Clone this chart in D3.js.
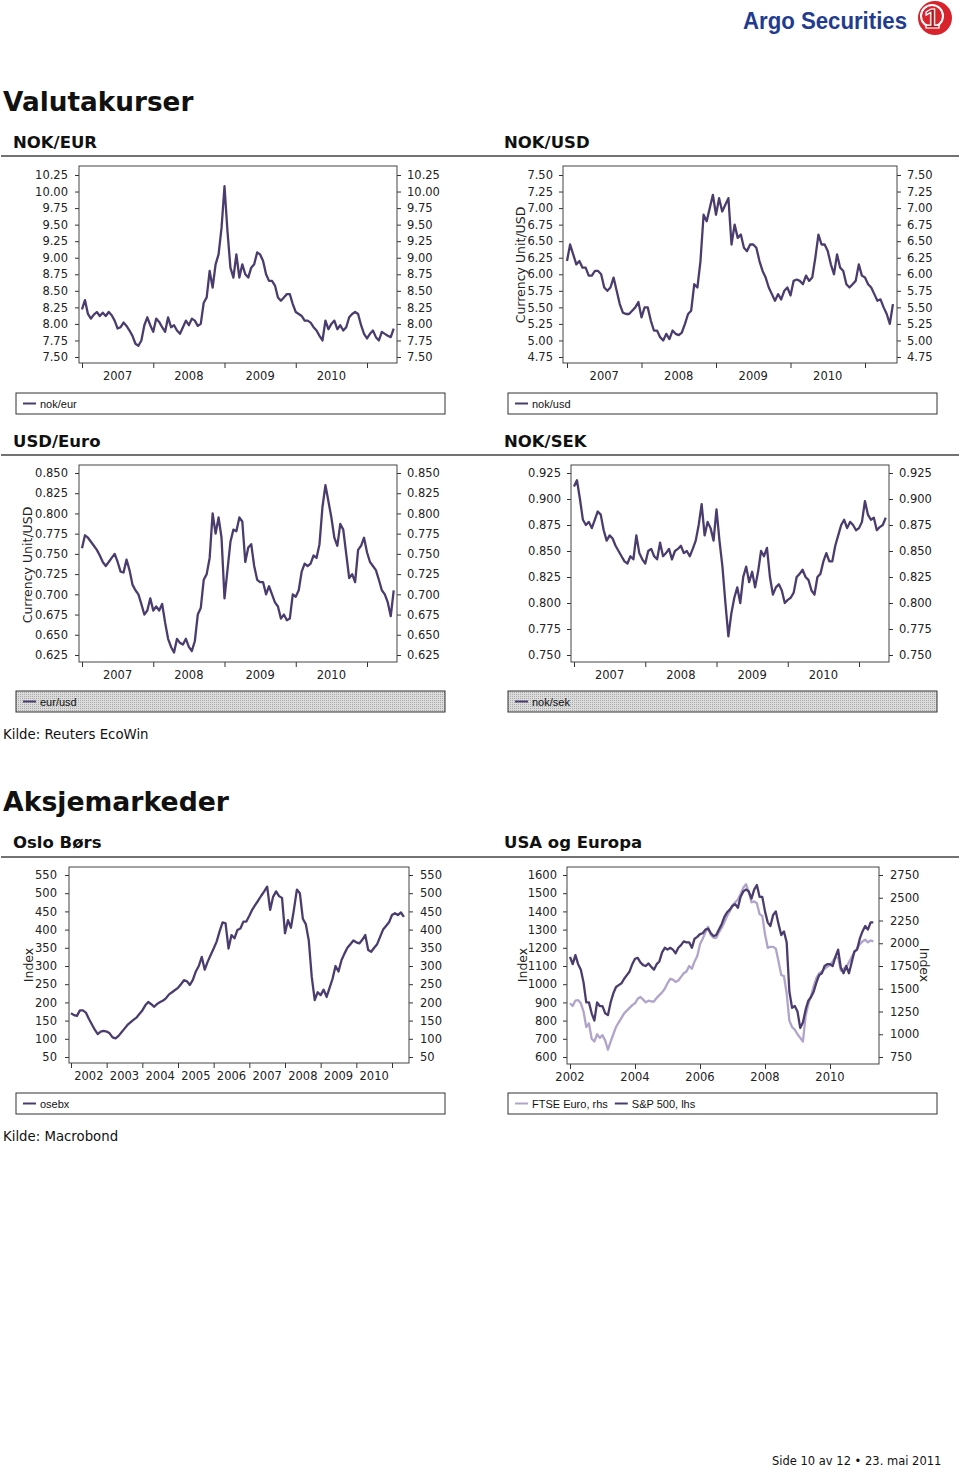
<!DOCTYPE html>
<html><head><meta charset="utf-8"><title>Valutakurser og Aksjemarkeder</title>
<script src="https://cdn.jsdelivr.net/npm/d3@7/dist/d3.min.js"></script>
<style>html,body{margin:0;padding:0;background:#fff}svg{display:block}</style>
</head><body><script>
// ---------- DATA ----------
const fxStart = 2007, fxStep = 1 / 24;        // semi-monthly readings
const stockStart = 2002, stockStep = 1 / 12;  // monthly readings

const fxYears = [2007, 2008, 2009, 2010, 2011];
const fxYearLabels = [2007, 2008, 2009, 2010];
const stockYears = [2002, 2003, 2004, 2005, 2006, 2007, 2008, 2009, 2010, 2011];
const stockYearLabels = [2002, 2003, 2004, 2005, 2006, 2007, 2008, 2009, 2010];
const usEuYears = [2002, 2004, 2006, 2008, 2010];

const nokEurTicks = [7.50, 7.75, 8.00, 8.25, 8.50, 8.75, 9.00, 9.25, 9.50, 9.75, 10.00, 10.25];
const nokUsdTicks = [4.75, 5.00, 5.25, 5.50, 5.75, 6.00, 6.25, 6.50, 6.75, 7.00, 7.25, 7.50];
const eurUsdTicks = [0.625, 0.650, 0.675, 0.700, 0.725, 0.750, 0.775, 0.800, 0.825, 0.850];
const nokSekTicks = [0.750, 0.775, 0.800, 0.825, 0.850, 0.875, 0.900, 0.925];
const osebxTicks = [50, 100, 150, 200, 250, 300, 350, 400, 450, 500, 550];
const spTicks = [600, 700, 800, 900, 1000, 1100, 1200, 1300, 1400, 1500, 1600];
const ftseTicks = [750, 1000, 1250, 1500, 1750, 2000, 2250, 2500, 2750];

const nokEur = [8.22,8.36,8.15,8.08,8.14,8.18,8.12,8.17,8.12,8.18,8.13,8.05,7.93,7.95,8.02,7.97,7.90,7.82,7.70,7.67,7.75,7.98,8.10,7.98,
7.88,8.08,8.03,7.95,7.88,8.10,7.95,7.98,7.90,7.85,7.95,8.05,7.98,8.08,8.05,7.97,8.00,8.32,8.40,8.80,8.55,8.90,9.05,9.45,
10.08,9.40,8.85,8.70,9.05,8.70,8.90,8.75,8.70,8.85,8.90,9.08,9.05,8.95,8.75,8.65,8.65,8.58,8.40,8.35,8.40,8.45,8.45,8.30,
8.18,8.15,8.12,8.05,8.05,8.02,7.95,7.90,7.82,7.75,8.05,7.92,8.00,8.05,7.92,7.98,7.90,7.95,8.10,8.15,8.18,8.15,7.98,7.85,
7.78,7.85,7.90,7.80,7.75,7.88,7.85,7.82,7.80,7.93];

const nokUsd = [6.20,6.45,6.30,6.15,6.20,6.10,6.10,5.98,5.98,6.05,6.05,6.00,5.80,5.75,5.80,5.95,5.75,5.55,5.42,5.40,5.40,5.45,5.50,5.58,
5.35,5.50,5.50,5.30,5.15,5.15,5.05,5.00,5.10,5.02,5.15,5.10,5.08,5.12,5.25,5.40,5.45,5.85,5.80,6.20,6.90,6.80,7.00,7.20,
6.90,7.15,6.95,7.05,7.15,6.45,6.75,6.55,6.60,6.40,6.35,6.45,6.45,6.40,6.20,6.05,5.95,5.80,5.70,5.60,5.70,5.62,5.75,5.80,
5.68,5.90,5.92,5.90,5.85,5.98,5.90,5.95,6.25,6.60,6.45,6.45,6.35,6.15,6.00,6.30,6.10,6.05,5.85,5.80,5.85,5.90,6.15,5.98,
5.95,5.85,5.80,5.70,5.60,5.62,5.50,5.40,5.25,5.55];

const eurUsd = [0.757,0.773,0.770,0.765,0.760,0.755,0.748,0.740,0.735,0.740,0.745,0.750,0.740,0.728,0.727,0.743,0.730,0.712,0.705,0.700,0.688,0.675,0.680,0.695,
0.680,0.685,0.680,0.688,0.665,0.645,0.635,0.628,0.645,0.640,0.638,0.645,0.635,0.630,0.642,0.675,0.683,0.718,0.725,0.745,0.800,0.775,0.795,0.770,
0.695,0.730,0.765,0.780,0.778,0.795,0.790,0.740,0.758,0.762,0.735,0.718,0.715,0.715,0.700,0.710,0.700,0.690,0.685,0.670,0.675,0.668,0.670,0.700,
0.697,0.705,0.728,0.738,0.735,0.738,0.748,0.745,0.762,0.808,0.835,0.815,0.795,0.770,0.760,0.787,0.780,0.750,0.720,0.725,0.715,0.755,0.760,0.770,
0.752,0.740,0.735,0.730,0.718,0.705,0.700,0.690,0.673,0.705];

const nokSek = [0.912,0.918,0.900,0.880,0.875,0.878,0.872,0.880,0.888,0.885,0.870,0.860,0.865,0.862,0.855,0.850,0.845,0.840,0.838,0.845,0.842,0.865,0.848,0.842,
0.838,0.850,0.852,0.845,0.842,0.858,0.845,0.848,0.852,0.842,0.850,0.852,0.855,0.848,0.850,0.845,0.852,0.860,0.875,0.895,0.865,0.878,0.872,0.860,
0.890,0.860,0.835,0.800,0.768,0.790,0.805,0.815,0.800,0.825,0.835,0.820,0.830,0.815,0.830,0.850,0.845,0.853,0.825,0.808,0.815,0.818,0.812,0.800,
0.803,0.805,0.810,0.825,0.828,0.832,0.825,0.822,0.812,0.808,0.825,0.828,0.840,0.848,0.840,0.840,0.855,0.865,0.875,0.880,0.872,0.878,0.875,0.870,
0.872,0.878,0.898,0.885,0.880,0.882,0.870,0.873,0.875,0.882];

const osebx = [170,165,163,178,178,172,155,140,125,113,120,122,
120,115,104,101,108,118,128,138,145,152,158,168,
178,192,201,195,188,196,201,205,212,222,228,234,
240,250,261,258,248,262,285,300,325,290,312,330,
348,367,395,420,417,348,385,376,399,403,422,422,
438,455,468,480,493,505,518,454,490,505,492,487,
390,426,405,455,510,500,430,415,370,270,206,228,
220,235,215,240,265,300,285,316,334,350,360,370,
365,362,372,385,344,339,350,360,380,400,410,420,
440,445,440,447,435];

const sp500 = [1150,1110,1160,1110,1080,1010,900,900,840,800,900,880,
880,840,830,900,950,985,995,1005,1030,1050,1070,1110,
1140,1145,1120,1105,1100,1114,1095,1080,1110,1125,1175,1200,
1190,1200,1190,1170,1200,1215,1235,1230,1230,1200,1250,1260,
1275,1280,1300,1305,1280,1265,1270,1300,1330,1370,1395,1410,
1430,1440,1420,1480,1510,1520,1510,1470,1520,1545,1480,1480,
1400,1340,1320,1380,1400,1330,1270,1290,1230,960,870,880,
850,760,790,860,910,930,960,1010,1050,1060,1100,1110,
1110,1100,1150,1190,1090,1060,1100,1060,1120,1180,1190,1250,
1290,1320,1300,1340,1340];

const ftseEuro = [1340,1310,1370,1375,1340,1250,1080,1120,950,920,1000,960,
990,930,830,920,1000,1080,1130,1180,1230,1260,1290,1320,
1340,1390,1410,1380,1350,1370,1360,1360,1400,1430,1460,1500,
1560,1610,1600,1575,1590,1630,1670,1690,1750,1720,1800,1860,
1990,2050,2120,2180,2090,2060,2060,2120,2170,2230,2300,2350,
2420,2450,2480,2540,2610,2650,2560,2450,2460,2440,2320,2300,
2100,1950,1960,1960,1940,1800,1650,1640,1450,1150,1080,1050,
1000,960,920,1200,1330,1420,1530,1620,1670,1690,1720,1740,
1760,1800,1850,1840,1700,1720,1740,1790,1850,1900,1940,1990,
2020,2040,2010,2030,2020];

// ---------- STYLE ----------
const DARK = "#4a3d6e", LIGHT = "#b0a4cb";
const FONT = "'DejaVu Sans', Verdana, sans-serif";
const LFONT = "'Liberation Sans', Arial, sans-serif";

const svg = d3.select("body").append("svg").attr("width", 960).attr("height", 1467)
  .style("font-family", FONT);

const defs = svg.append("defs");
const pat = defs.append("pattern").attr("id", "greydots").attr("width", 2).attr("height", 2)
  .attr("patternUnits", "userSpaceOnUse");
pat.append("rect").attr("width", 2).attr("height", 2).attr("fill", "#dcdcdc");
pat.append("rect").attr("width", 1).attr("height", 1).attr("fill", "#a9a9a9");

// ---------- LOGO ----------
const logo = svg.append("g");
logo.append("text").attr("x", 743).attr("y", 29).text("Argo Securities")
  .attr("font-family", LFONT).attr("font-weight", "bold").attr("font-size", 24)
  .attr("textLength", 164).attr("lengthAdjust", "spacingAndGlyphs").attr("fill", "#1f3c91");
logo.append("circle").attr("cx", 935).attr("cy", 18).attr("r", 17).attr("fill", "#d8232c");
logo.append("circle").attr("cx", 932).attr("cy", 16).attr("r", 11).attr("fill", "none")
  .attr("stroke", "#fff").attr("stroke-width", 2);
logo.append("text").attr("x", 932).attr("y", 28).attr("text-anchor", "middle").text("1")
  .attr("font-family", LFONT).attr("font-weight", "bold").attr("font-size", 28)
  .attr("fill", "#a8141c").attr("stroke", "#fff").attr("stroke-width", 1.2);

// ---------- HEADINGS ----------
function txt(x, y, s, size, weight, anchor) {
  return svg.append("text").attr("x", x).attr("y", y).text(s).attr("font-size", size)
    .attr("font-weight", weight || "normal").attr("text-anchor", anchor || "start").attr("fill", "#111");
}
txt(3, 111, "Valutakurser", 26.3, "bold");
txt(13, 148, "NOK/EUR", 16.5, "bold");
txt(504, 148, "NOK/USD", 16.5, "bold");
txt(13, 447, "USD/Euro", 16.5, "bold");
txt(504, 447, "NOK/SEK", 16.5, "bold");
txt(3, 739, "Kilde: Reuters EcoWin", 13.3);
txt(3, 811, "Aksjemarkeder", 26.7, "bold");
txt(13, 848, "Oslo Børs", 16.5, "bold");
txt(504, 848, "USA og Europa", 16.5, "bold");
txt(3, 1141, "Kilde: Macrobond", 13.3);
txt(772, 1465, "Side 10 av 12 \u2022 23. mai 2011", 11.5);
[156, 455, 857].forEach(y => svg.append("line").attr("x1", 1).attr("x2", 959).attr("y1", y).attr("y2", y)
  .attr("stroke", "#444").attr("stroke-width", 1.6));

// ---------- CHART ----------
function styleAxis(g) {
  g.select(".domain").remove();
  g.selectAll(".tick line").attr("stroke", "#333");
  g.selectAll(".tick text").attr("fill", "#222").attr("font-family", FONT).attr("font-size", 11.5);
}

function chart(o) {
  const g = svg.append("g");
  const x = d3.scaleLinear().domain([o.xa[0], o.xb[0]]).range([o.xa[1], o.xb[1]]);
  const yL = d3.scaleLinear().domain([o.lTicks[0], o.lTicks[o.lTicks.length - 1]]).range(o.lPx);
  const rTicks = o.rTicks || o.lTicks;
  const yR = o.rTicks ? d3.scaleLinear().domain([rTicks[0], rTicks[rTicks.length - 1]]).range(o.rPx) : yL;

  g.append("g").attr("transform", `translate(${o.box.l},0)`)
    .call(d3.axisLeft(yL).tickValues(o.lTicks).tickSize(4).tickPadding(o.lPad || 6).tickFormat(d3.format(o.lFmt)))
    .call(styleAxis);
  g.append("g").attr("transform", `translate(${o.box.r},0)`)
    .call(d3.axisRight(yR).tickValues(rTicks).tickSize(4).tickPadding(o.rPad || 6).tickFormat(d3.format(o.rFmt || o.lFmt)))
    .call(styleAxis);
  g.append("g").attr("transform", `translate(0,${o.box.b})`)
    .call(d3.axisBottom(x).tickValues(o.years).tickSize(5).tickFormat(""))
    .call(styleAxis);
  g.selectAll(".ylab").data(o.yearLabels).enter().append("text")
    .attr("x", d => x(o.midYear ? d + 0.5 : d)).attr("y", o.box.b + 17)
    .attr("text-anchor", "middle").attr("font-size", 11.5).attr("fill", "#222").text(d => d);

  o.series.forEach(s => {
    const yS = s.right ? yR : yL;
    const pts = s.values.map((v, i) => ({ t: s.start + i * s.step, v }));
    g.append("path").datum(pts)
      .attr("d", d3.line().x(d => x(d.t)).y(d => yS(d.v)))
      .attr("fill", "none").attr("stroke", s.color).attr("stroke-width", 2.3)
      .attr("stroke-linejoin", "round");
  });

  g.append("rect").attr("x", o.box.l).attr("y", o.box.t)
    .attr("width", o.box.r - o.box.l).attr("height", o.box.b - o.box.t)
    .attr("fill", "none").attr("stroke", "#444").attr("stroke-width", 1);

  (o.titles || []).forEach(t => {
    g.append("text").attr("transform", `translate(${t.x},${t.y}) rotate(${t.rot})`)
      .attr("text-anchor", "middle").attr("font-size", 12.5).attr("fill", "#222").text(t.text);
  });

  const L = o.legend;
  g.append("rect").attr("x", L.x).attr("y", L.y).attr("width", L.w).attr("height", L.h)
    .attr("fill", L.grey ? "url(#greydots)" : "#fff").attr("stroke", "#333").attr("stroke-width", 1);
  let cx = L.x + 7;
  const cy = L.y + L.h / 2;
  o.series.forEach(s => {
    g.append("line").attr("x1", cx).attr("x2", cx + 13).attr("y1", cy).attr("y2", cy)
      .attr("stroke", s.color).attr("stroke-width", 2);
    const t = g.append("text").attr("x", cx + 17).attr("y", cy + 4).attr("font-family", LFONT)
      .attr("font-size", 11).attr("fill", "#111").text(s.label);
    cx += 17 + t.node().getComputedTextLength() + 7;
  });
}

chart({
  box: { l: 79, r: 397, t: 166, b: 363 }, xa: [2007, 82], xb: [2011, 367],
  lTicks: nokEurTicks, lPx: [357, 175], lFmt: ".2f", lPad: 7,
  years: fxYears, yearLabels: fxYearLabels, midYear: true,
  series: [{ values: nokEur, start: fxStart, step: fxStep, color: DARK, label: "nok/eur" }],
  legend: { x: 16, y: 393, w: 429, h: 21 }
});
chart({
  box: { l: 563, r: 897, t: 166, b: 363 }, xa: [2007, 567], xb: [2011, 865],
  lTicks: nokUsdTicks, lPx: [357, 175], lFmt: ".2f",
  years: fxYears, yearLabels: fxYearLabels, midYear: true,
  series: [{ values: nokUsd, start: fxStart, step: fxStep, color: DARK, label: "nok/usd" }],
  titles: [{ x: 525, y: 265, rot: -90, text: "Currency Unit/USD" }],
  legend: { x: 508, y: 393, w: 429, h: 21 }
});
chart({
  box: { l: 79, r: 397, t: 465, b: 662 }, xa: [2007, 82], xb: [2011, 367],
  lTicks: eurUsdTicks, lPx: [655, 473], lFmt: ".3f", lPad: 7,
  years: fxYears, yearLabels: fxYearLabels, midYear: true,
  series: [{ values: eurUsd, start: fxStart, step: fxStep, color: DARK, label: "eur/usd" }],
  titles: [{ x: 32, y: 565, rot: -90, text: "Currency Unit/USD" }],
  legend: { x: 16, y: 691, w: 429, h: 21, grey: true }
});
chart({
  box: { l: 571, r: 889, t: 465, b: 662 }, xa: [2007, 574], xb: [2011, 859],
  lTicks: nokSekTicks, lPx: [655, 473], lFmt: ".3f",
  years: fxYears, yearLabels: fxYearLabels, midYear: true,
  series: [{ values: nokSek, start: fxStart, step: fxStep, color: DARK, label: "nok/sek" }],
  legend: { x: 508, y: 691, w: 429, h: 21, grey: true }
});
chart({
  box: { l: 69, r: 409, t: 867, b: 1063 }, xa: [2002, 71], xb: [2011, 392],
  lTicks: osebxTicks, lPx: [1057, 875], lFmt: "d", lPad: 8, rPad: 7,
  years: stockYears, yearLabels: stockYearLabels, midYear: true,
  series: [{ values: osebx, start: stockStart, step: stockStep, color: DARK, label: "osebx" }],
  titles: [{ x: 33, y: 965, rot: -90, text: "Index" }],
  legend: { x: 16, y: 1093, w: 429, h: 21 }
});
chart({
  box: { l: 567, r: 879, t: 867, b: 1064 }, xa: [2002, 570], xb: [2010, 830],
  lTicks: spTicks, lPx: [1057, 875], lFmt: "d",
  rTicks: ftseTicks, rPx: [1057, 875], rFmt: "d", rPad: 7,
  years: usEuYears, yearLabels: usEuYears, midYear: false,
  series: [
    { values: ftseEuro, start: stockStart, step: stockStep, color: LIGHT, label: "FTSE Euro, rhs", right: true },
    { values: sp500, start: stockStart, step: stockStep, color: DARK, label: "S&P 500, lhs" }
  ],
  titles: [{ x: 527, y: 965, rot: -90, text: "Index" }, { x: 920, y: 965, rot: 90, text: "Index" }],
  legend: { x: 508, y: 1093, w: 429, h: 21 }
});
</script></body></html>
